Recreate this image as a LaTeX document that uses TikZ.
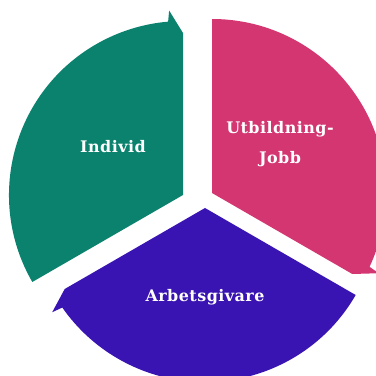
\documentclass[tikz,border=0pt]{standalone}
\usepackage{fontspec}
\setmainfont{DejaVu Serif}
\newfontfamily\lblfont[LetterSpace=3]{DejaVu Serif}
\definecolor{cgreen}{RGB}{11,130,110}
\definecolor{cpink}{RGB}{212,54,114}
\definecolor{cpurple}{RGB}{57,20,178}
\begin{document}
\begin{tikzpicture}[x=1bp,y=1bp,
  lbl/.style={text=white,align=center,font=\lblfont\bfseries\fontsize{16}{30}\selectfont}]
\useasboundingbox (0,0) rectangle (376,376);
\clip (0,0) rectangle (376,376);
% green segment (Individ)
\begin{scope}[shift={(183,181)}]
  \fill[cgreen] (0,0) -- (210:174) arc[start angle=210,end angle=94.9,radius=174]
    -- (94.3:185) -- (90:162) -- cycle;
\end{scope}
% pink segment (Utbildning-Jobb)
\begin{scope}[shift={(212,183)}]
  \fill[cpink] (0,0) -- (90:174) arc[start angle=90,end angle=-25.1,radius=174]
    -- (-25.7:185) -- (-30:162) -- cycle;
\end{scope}
% purple segment (Arbetsgivare)
\begin{scope}[shift={(205,168)}]
  \fill[cpurple] (0,0) -- (-30:174) arc[start angle=-30,end angle=-145.1,radius=174]
    -- (-145.7:185) -- (-150:162) -- cycle;
\end{scope}
\node[lbl] (ind) at (113,229) {Individ};
\node[lbl] (utb) at (280,232) {Utbildning-\\Jobb};
\node[lbl] (arb) at (205,79) {Arbetsgivare};
\end{tikzpicture}
\end{document}
